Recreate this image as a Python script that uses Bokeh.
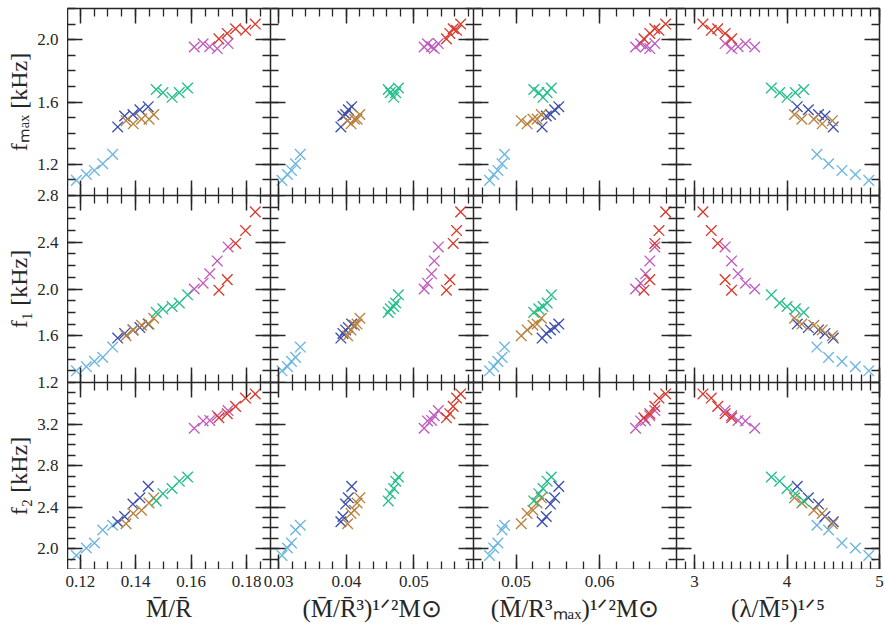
import numpy as np
from bokeh.plotting import figure
from bokeh.models import (FixedTicker, LinearAxis, Range1d, ColumnDataSource,
                          GridBox, CustomLabelingPolicy, BasicTickFormatter)
from bokeh.core.properties import value
from bokeh.embed import file_html
from bokeh.resources import INLINE

# ---------------- data (six groups, 5 stars each) ----------------
group_names = ["light blue", "dark blue", "brown", "green", "magenta", "red"]
group_colors = ["#6cb6e2", "#3c4fae", "#b9823f", "#27bf8b", "#c05cc0", "#d9392b"]

# x quantity 1: M/R
MR_lb = [0.1186, 0.1222, 0.1251, 0.1281, 0.1317]
MR_db = [0.1335, 0.1360, 0.1390, 0.1415, 0.1445]
MR_br = [0.1365, 0.1391, 0.1421, 0.1448, 0.1465]
MR_gr = [0.1474, 0.1498, 0.1531, 0.1557, 0.1587]
MR_mg = [0.1611, 0.1643, 0.1667, 0.1694, 0.1733]
MR_rd = [0.1700, 0.1730, 0.1760, 0.1796, 0.1831]

# x quantity 2: (M/R^3)^(1/2) Msun
MR3_lb = [0.0305, 0.0313, 0.0319, 0.0325, 0.0332]
MR3_db = [0.0392, 0.0395, 0.0399, 0.0403, 0.0408]
MR3_br = [0.0402, 0.0407, 0.0412, 0.0416, 0.0420]
MR3_gr = [0.0462, 0.0465, 0.0470, 0.0473, 0.0477]
MR3_mg = [0.0515, 0.0520, 0.0526, 0.0530, 0.0536]
MR3_rd = [0.0548, 0.0553, 0.0558, 0.0563, 0.0569]

# x quantity 3: (M/Rmax^3)^(1/2) Msun
MRmax_lb = [0.0468, 0.0473, 0.0478, 0.0483, 0.0486]
MRmax_db = [0.0531, 0.0536, 0.0541, 0.0546, 0.0551]
MRmax_br = [0.0506, 0.0513, 0.0520, 0.0525, 0.0530]
MRmax_gr = [0.0521, 0.0527, 0.0532, 0.0537, 0.0542]
MRmax_mg = [0.0643, 0.0649, 0.0655, 0.0660, 0.0666]
MRmax_rd = [0.0653, 0.0660, 0.0666, 0.0671, 0.0679]

# x quantity 4: (lambda/M^5)^(1/5)
LAM_lb = [4.884, 4.739, 4.594, 4.449, 4.323]
LAM_db = [4.50, 4.41, 4.34, 4.23, 4.11]
LAM_br = [4.49, 4.38, 4.29, 4.16, 4.08]
LAM_gr = [4.18, 4.09, 4.00, 3.92, 3.83]
LAM_mg = [3.65, 3.55, 3.47, 3.40, 3.33]
LAM_rd = [3.40, 3.33, 3.25, 3.18, 3.09]

# y quantity 1: fmax [kHz]
FMAX_lb = [1.097, 1.135, 1.161, 1.204, 1.264]
FMAX_db = [1.44, 1.51, 1.52, 1.55, 1.57]
FMAX_br = [1.48, 1.46, 1.49, 1.49, 1.52]
FMAX_gr = [1.68, 1.66, 1.63, 1.66, 1.69]
FMAX_mg = [1.953, 1.974, 1.955, 1.943, 1.975]
FMAX_rd = [2.005, 2.04, 2.07, 2.06, 2.10]

# y quantity 2: f1 [kHz]
F1_lb = [1.300, 1.336, 1.381, 1.415, 1.503]
F1_db = [1.58, 1.62, 1.65, 1.67, 1.70]
F1_br = [1.60, 1.65, 1.69, 1.70, 1.75]
F1_gr = [1.80, 1.83, 1.85, 1.88, 1.95]
F1_mg = [2.00, 2.05, 2.13, 2.24, 2.36]
F1_rd = [1.99, 2.08, 2.39, 2.50, 2.66]

# y quantity 3: f2 [kHz]
F2_lb = [1.935, 2.007, 2.055, 2.180, 2.226]
F2_db = [2.26, 2.31, 2.43, 2.49, 2.60]
F2_br = [2.24, 2.34, 2.37, 2.44, 2.49]
F2_gr = [2.46, 2.53, 2.58, 2.65, 2.69]
F2_mg = [3.16, 3.23, 3.235, 3.28, 3.33]
F2_rd = [3.26, 3.30, 3.37, 3.45, 3.49]

x_data = [
    [MR_lb, MR_db, MR_br, MR_gr, MR_mg, MR_rd],
    [MR3_lb, MR3_db, MR3_br, MR3_gr, MR3_mg, MR3_rd],
    [MRmax_lb, MRmax_db, MRmax_br, MRmax_gr, MRmax_mg, MRmax_rd],
    [LAM_lb, LAM_db, LAM_br, LAM_gr, LAM_mg, LAM_rd],
]
y_data = [
    [FMAX_lb, FMAX_db, FMAX_br, FMAX_gr, FMAX_mg, FMAX_rd],
    [F1_lb, F1_db, F1_br, F1_gr, F1_mg, F1_rd],
    [F2_lb, F2_db, F2_br, F2_gr, F2_mg, F2_rd],
]

# ---------------- axes ----------------
x_labels = ["M̄/R̄", "(M̄/R̄³)¹ᐟ²M⊙", "(M̄/R³ₘₐₓ)¹ᐟ²M⊙", "(λ/M̄⁵)¹ᐟ⁵"]
y_labels = ["fₘₐₓ [kHz]", "f₁ [kHz]", "f₂ [kHz]"]
x_limits = [(0.1154, 0.1886), (0.0288, 0.0588), (0.04488, 0.0692), (2.804, 5.0)]
y_limits = [(1.0, 2.2), (1.2, 2.8), (1.8, 3.6)]
x_major_ticks = [[0.12, 0.14, 0.16, 0.18], [0.03, 0.04, 0.05], [0.05, 0.06], [3, 4, 5]]
x_minor_steps = [0.005, 0.002, 0.002, 0.1]
x_formats = ["{:.2f}", "{:.2f}", "{:.2f}", "{:d}"]
y_major_ticks = [[1.2, 1.6, 2.0], [1.2, 1.6, 2.0, 2.4, 2.8], [2.0, 2.4, 2.8, 3.2]]
y_minor_step = 0.1

FONT = "Liberation Serif"
INK = "#262626"
FW, FH = 203, 187          # frame size of each panel
LEFT, TOP, RIGHT, BOTTOM = 67, 8, 5, 56


def make_ticker(major, lo, hi, step):
    n0 = int(np.ceil(lo / step - 1e-6))
    n1 = int(np.floor(hi / step + 1e-6))
    minor = [round(k * step, 6) for k in range(n0, n1 + 1)]
    return FixedTicker(ticks=major, minor_ticks=minor)


no_labels = CustomLabelingPolicy(code="""
    const n = indices.size
    for (let i = 0; i < n; i++) { indices.unset(i) }
    return indices
""")


def style_axis(ax):
    ax.major_tick_in = 15
    ax.major_tick_out = 0
    ax.minor_tick_in = 8
    ax.minor_tick_out = 0
    ax.axis_line_color = INK
    ax.axis_line_width = 1.5
    ax.major_tick_line_color = INK
    ax.major_tick_line_width = 1.5
    ax.minor_tick_line_color = INK
    ax.minor_tick_line_width = 1.3
    ax.major_label_text_font_size = "0px"
    ax.major_label_standoff = 0
    ax.major_label_policy = no_labels


children = []
for r in range(3):
    for c in range(4):
        p = figure(
            frame_width=FW, frame_height=FH,
            x_range=Range1d(*x_limits[c]), y_range=Range1d(*y_limits[r]),
            output_backend="svg", toolbar_location=None,
            x_axis_location=None, y_axis_location=None,
            min_border=0,
            min_border_right=RIGHT if c == 3 else 0,
            min_border_top=TOP if r == 0 else 0,
            outline_line_color=None,
            background_fill_color="white", border_fill_color="white",
        )
        p.grid.visible = False
        xt = make_ticker(x_major_ticks[c], x_limits[c][0], x_limits[c][1], x_minor_steps[c])
        yt = make_ticker(y_major_ticks[r], y_limits[r][0], y_limits[r][1], y_minor_step)
        for side in ["below", "above"]:
            ax = LinearAxis(ticker=xt, formatter=BasicTickFormatter())
            style_axis(ax)
            p.add_layout(ax, side)
        for side in ["left", "right"]:
            ax = LinearAxis(ticker=yt, formatter=BasicTickFormatter())
            style_axis(ax)
            p.add_layout(ax, side)
        for g in range(len(group_names)):
            src = ColumnDataSource(dict(x=x_data[c][g], y=y_data[r][g]))
            p.scatter("x", "y", source=src, marker="x", size=15,
                      line_color=group_colors[g], line_width=1.35)
        children.append((p, r, c + 1))

# ---- left strip: y tick labels and y axis titles (positions follow the panels' ranges)
ys = figure(frame_width=LEFT, frame_height=3 * FH, min_border=0, min_border_top=TOP,
            x_range=Range1d(0, LEFT), y_range=Range1d(0, 3 * FH),
            x_axis_location=None, y_axis_location=None, output_backend="svg",
            toolbar_location=None, outline_line_color=None,
            background_fill_color="white", border_fill_color="white")
ys.grid.visible = False
tk_x, tk_y, tk_t = [], [], []
for r in range(3):
    lo, hi = y_limits[r]
    base = (2 - r) * FH
    for v in y_major_ticks[r]:
        tk_x.append(LEFT - 9)
        tk_y.append(base + (v - lo) / (hi - lo) * FH)
        tk_t.append("{:.1f}".format(v))
ys.text(x="x", y="y", text="t", source=ColumnDataSource(dict(x=tk_x, y=tk_y, t=tk_t)),
        text_font=value(FONT), text_font_size=value("17px"), text_color=INK,
        text_align="right", text_baseline="middle")
ys.text(x="x", y="y", text="t",
        source=ColumnDataSource(dict(x=[18] * 3, y=[(2 - r) * FH + FH / 2 for r in range(3)],
                                     t=y_labels)),
        text_font=value(FONT), text_font_size=value("24px"), text_color=INK,
        text_align="center", text_baseline="middle", angle=np.pi / 2)
children.append((ys, 0, 0, 3, 1))

# ---- bottom strip: x tick labels and x axis titles
XS_W = LEFT + 4 * FW + RIGHT
xs = figure(frame_width=XS_W, frame_height=BOTTOM, min_border=0,
            x_range=Range1d(0, XS_W), y_range=Range1d(0, BOTTOM),
            x_axis_location=None, y_axis_location=None, output_backend="svg",
            toolbar_location=None, outline_line_color=None,
            background_fill_color="white", border_fill_color="white")
xs.grid.visible = False
tx_x, tx_y, tx_t = [], [], []
for c in range(4):
    lo, hi = x_limits[c]
    base = LEFT + c * FW
    for v in x_major_ticks[c]:
        tx_x.append(base + (v - lo) / (hi - lo) * FW)
        tx_y.append(BOTTOM - 12)
        tx_t.append(x_formats[c].format(v))
xs.text(x="x", y="y", text="t", source=ColumnDataSource(dict(x=tx_x, y=tx_y, t=tx_t)),
        text_font=value(FONT), text_font_size=value("17px"), text_color=INK,
        text_align="center", text_baseline="middle")
xs.text(x="x", y="y", text="t",
        source=ColumnDataSource(dict(x=[LEFT + c * FW + FW / 2 for c in range(4)], y=[17] * 4,
                                     t=x_labels)),
        text_font=value(FONT), text_font_size=value("25px"), text_color=INK,
        text_align="center", text_baseline="middle")
children.append((xs, 3, 0, 1, 5))

layout = GridBox(children=children, spacing=0)
open("out.html", "w").write(file_html(layout, INLINE))
